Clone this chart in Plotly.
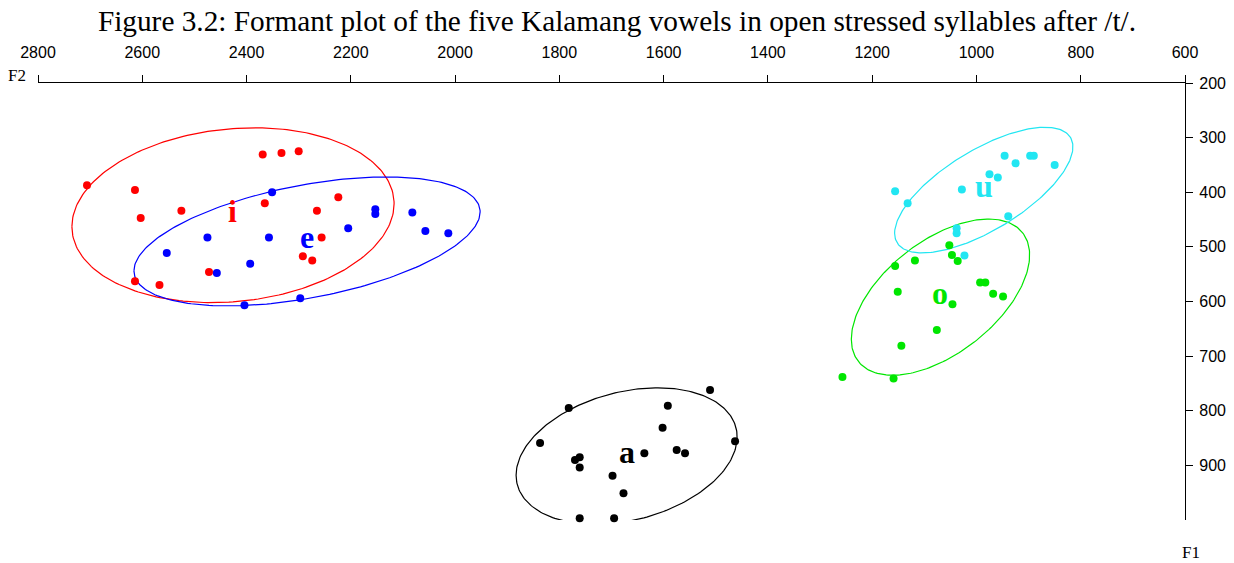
import numpy as np
import plotly.graph_objects as go

# ---- data (F2 = x, F1 = y), in Hz ----
i_F2 = [2706, 2614, 2603, 2525, 2369, 2333, 2300, 2365, 2265, 2224, 2256, 2292, 2274, 2472, 2614, 2567]
i_F1 = [387, 396, 447, 434, 331, 328, 325, 420, 434, 409, 483, 517, 525, 546, 563, 570]

e_F2 = [2553, 2475, 2457, 2404, 2393, 2357, 2351, 2297, 2205, 2153, 2153, 2082, 2057, 2013]
e_F1 = [511, 483, 548, 607, 531, 483, 400, 594, 466, 431, 440, 437, 471, 475]

a_F2 = [1782, 1837, 1511, 1592, 1602, 1463, 1575, 1559, 1637, 1770, 1761, 1761, 1698, 1677, 1761, 1695]
a_F1 = [795, 859, 762, 791, 831, 856, 872, 878, 878, 890, 885, 904, 919, 951, 997, 997]

o_F2 = [1052, 1047, 1036, 1156, 1118, 993, 983, 968, 949, 1151, 1046, 1076, 1144, 1257, 1159]
o_F1 = [497, 515, 526, 535, 525, 565, 565, 586, 591, 582, 605, 652, 681, 738, 741]

u_F2 = [1156, 1132, 1028, 975, 959, 946, 925, 897, 890, 850, 939, 1038, 1038, 1023]
u_F1 = [398, 420, 395, 367, 373, 333, 347, 333, 333, 350, 444, 466, 475, 516]

vowels = ["i", "e", "a", "o", "u"]
vowel_colors = ["#FF0000", "#0000FF", "#000000", "#00E600", "#22E6F2"]

# ellipse summaries per vowel: centre (F2, F1), half-width along F2,
# F1 offset at the high-F2 extreme (tilt), half-height along F1
ell_cF2 = [2426, 2284, 1671, 1069, 986]
ell_cF1 = [442, 490, 883, 592, 396]
ell_W = [309, 332, 212, 171, 171]
ell_S = [21, 54, 35, 77, 79]
ell_H = [160, 118, 125, 143, 115]

x_ticks = [2800, 2600, 2400, 2200, 2000, 1800, 1600, 1400, 1200, 1000, 800, 600]
y_ticks = [200, 300, 400, 500, 600, 700, 800, 900]

title_text = "Figure 3.2: Formant plot of the five Kalamang vowels in open stressed syllables after /t/."

series = [(i_F2, i_F1), (e_F2, e_F1), (a_F2, a_F1), (o_F2, o_F1), (u_F2, u_F1)]

fig = go.Figure()
t = np.linspace(0, 2 * np.pi, 241)
for k, v in enumerate(vowels):
    C = np.sqrt(ell_H[k] ** 2 - ell_S[k] ** 2)
    ex = ell_cF2[k] + ell_W[k] * np.cos(t)
    ey = ell_cF1[k] + ell_S[k] * np.cos(t) + C * np.sin(t)
    fig.add_trace(go.Scatter(x=ex, y=ey, mode="lines", cliponaxis=False,
                             line=dict(color=vowel_colors[k], width=1.2),
                             hoverinfo="skip", showlegend=False))
for k, v in enumerate(vowels):
    xs, ys = series[k]
    fig.add_trace(go.Scatter(x=xs, y=ys, mode="markers", cliponaxis=False,
                             marker=dict(color=vowel_colors[k], size=8, line=dict(width=0)),
                             name=v, showlegend=False))
    fig.add_annotation(x=ell_cF2[k], y=ell_cF1[k], text="<b>%s</b>" % v, showarrow=False,
                       font=dict(family="Liberation Serif, Times New Roman, serif", size=32,
                                 color=vowel_colors[k]),
                       xanchor="center", yanchor="middle", yshift=4)

fig.add_annotation(xref="paper", yref="paper", x=0, y=1, text="F2", showarrow=False,
                   xanchor="right", yanchor="middle", xshift=-10, yshift=8,
                   font=dict(family="Liberation Serif, serif", size=17, color="black"))
fig.add_annotation(xref="paper", yref="paper", x=1, y=0, text="F1", showarrow=False,
                   xanchor="center", yanchor="middle", xshift=6, yshift=-32,
                   font=dict(family="Liberation Serif, serif", size=17, color="black"))

tickfont = dict(family="Liberation Sans, Arial, sans-serif", size=16, color="black")
fig.update_layout(
    width=1234, height=563,
    margin=dict(l=38, r=49, t=83, b=43, autoexpand=False),
    paper_bgcolor="white", plot_bgcolor="white",
    showlegend=False,
    title=dict(text=title_text, x=0.5, xref="container", xanchor="center",
               y=0.963, yref="container", yanchor="middle",
               font=dict(family="Liberation Serif, Times New Roman, serif", size=29.3, color="black")),
    xaxis=dict(side="top", range=[2800, 600], tickvals=x_ticks, ticktext=[str(v) for v in x_ticks],
               ticks="outside", ticklen=7, tickcolor="black", tickwidth=1,
               showline=True, linecolor="black", linewidth=1.2,
               showgrid=False, zeroline=False, tickfont=tickfont, ticklabelstandoff=11),
    yaxis=dict(side="right", range=[1000, 200], tickvals=y_ticks, ticktext=[str(v) for v in y_ticks],
               ticks="outside", ticklen=7, tickcolor="black", tickwidth=1,
               showline=True, linecolor="black", linewidth=1.2,
               showgrid=False, zeroline=False, tickfont=tickfont, ticklabelstandoff=3),
)

fig.write_html("out.html", config={"displayModeBar": False},
               post_script="document.body.style.margin='0';")
